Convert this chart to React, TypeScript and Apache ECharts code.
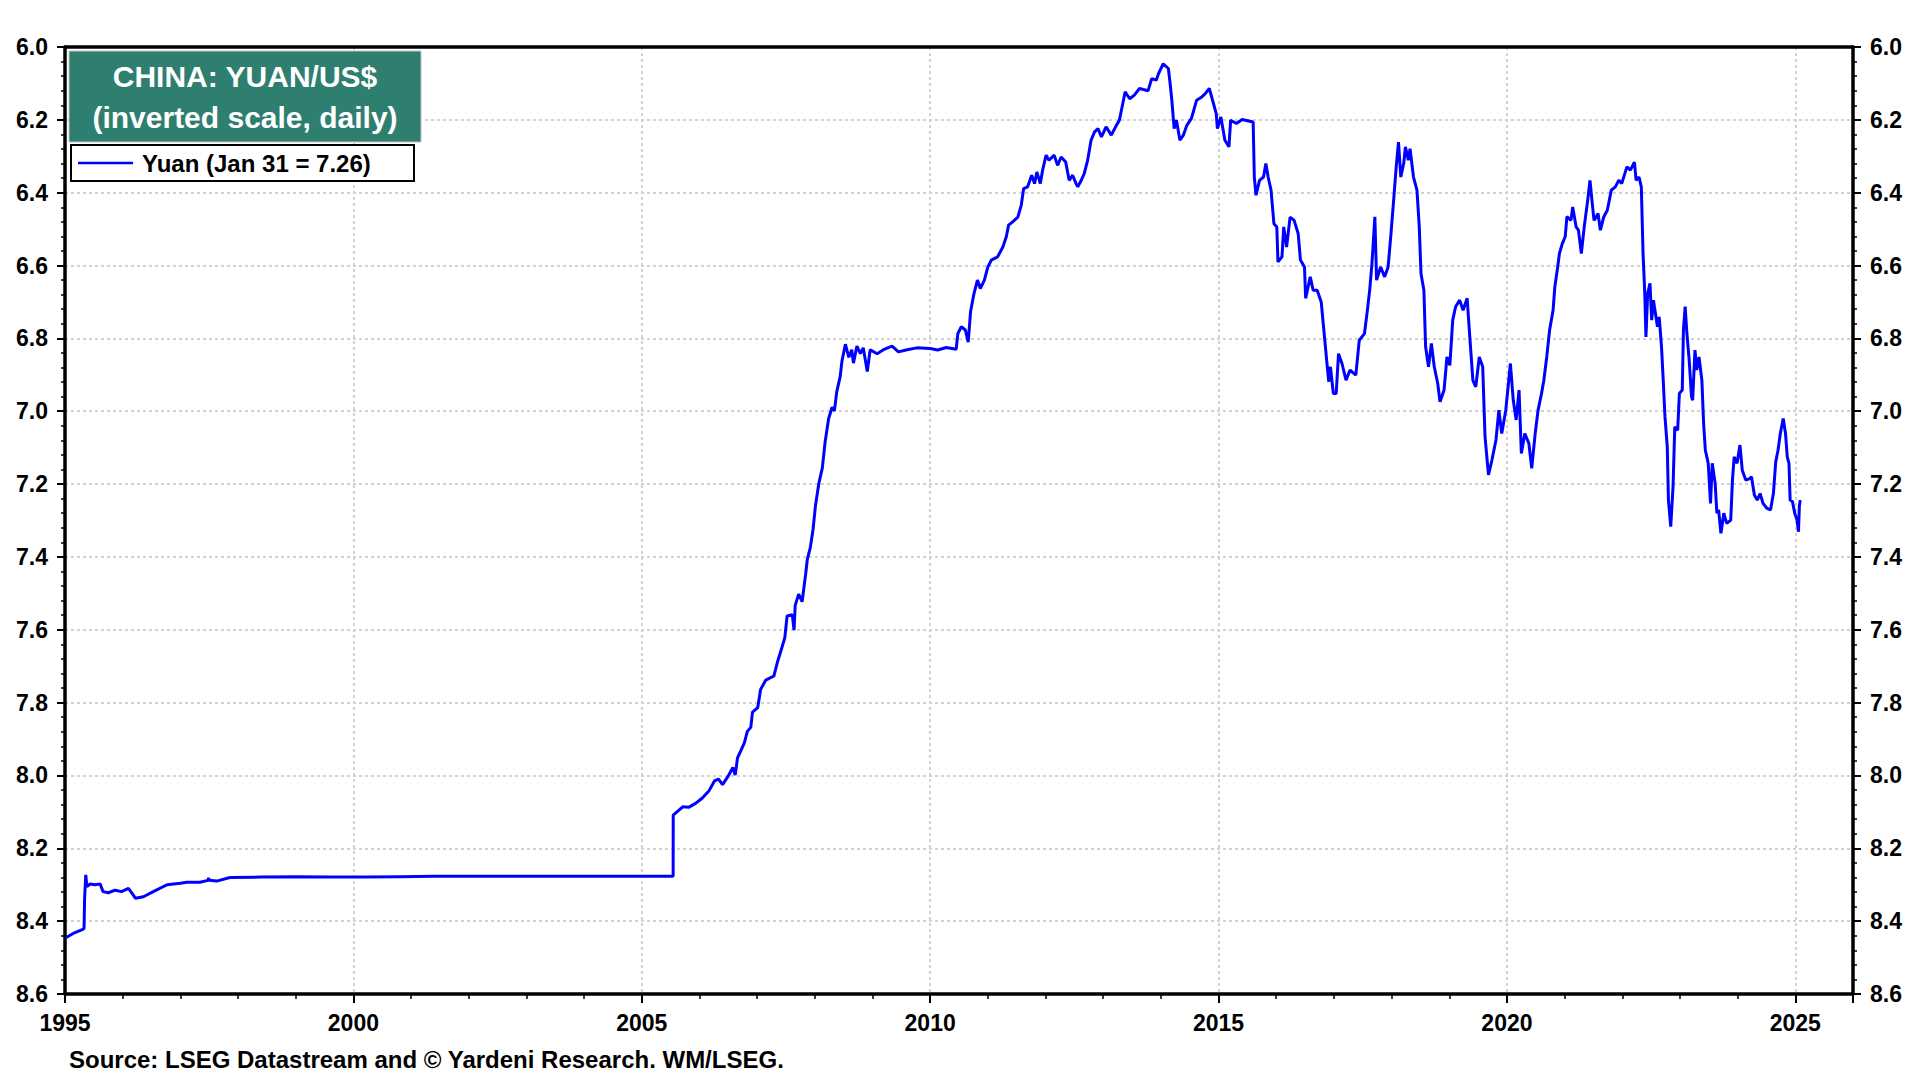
import React, { useEffect, useRef } from "react";
import * as echarts from "echarts";

// Decimal-year / yuan-per-dollar pairs
const pegEra = [
  [1995.02, 8.445], [1995.15, 8.433], [1995.29, 8.424], [1995.33, 8.42], [1995.34, 8.337], [1995.36, 8.273],
  [1995.38, 8.305], [1995.43, 8.298], [1995.52, 8.3], [1995.61, 8.298], [1995.66, 8.319], [1995.75, 8.322],
  [1995.87, 8.315], [1995.98, 8.319], [1996.1, 8.31], [1996.16, 8.323], [1996.22, 8.337], [1996.36, 8.333],
  [1996.53, 8.319], [1996.77, 8.3], [1997.0, 8.296], [1997.11, 8.293], [1997.34, 8.293], [1997.48, 8.288],
  [1997.49, 8.281], [1997.5, 8.288], [1997.63, 8.29], [1997.86, 8.28], [1998.39, 8.279], [1999.0, 8.278],
  [1999.6, 8.279], [2000.2, 8.279], [2000.8, 8.278], [2001.4, 8.277], [2002.0, 8.277], [2002.6, 8.277],
  [2003.2, 8.277], [2003.8, 8.277], [2004.4, 8.277], [2005.0, 8.277], [2005.544, 8.277],
];

const reformEra = [
  [2005.545, 8.109], [2005.71, 8.086], [2005.82, 8.087], [2005.94, 8.076], [2006.05, 8.062], [2006.17, 8.041],
  [2006.26, 8.015], [2006.33, 8.01], [2006.4, 8.025], [2006.49, 8.004], [2006.58, 7.978], [2006.62, 7.999],
  [2006.66, 7.952], [2006.72, 7.931], [2006.78, 7.91], [2006.83, 7.879], [2006.89, 7.868], [2006.92, 7.826],
  [2007.01, 7.814], [2007.06, 7.764], [2007.15, 7.738], [2007.29, 7.727], [2007.35, 7.69], [2007.41, 7.659],
  [2007.48, 7.622], [2007.52, 7.562], [2007.61, 7.559], [2007.64, 7.601], [2007.66, 7.533], [2007.72, 7.502],
  [2007.78, 7.523], [2007.84, 7.449], [2007.87, 7.407], [2007.92, 7.376], [2007.97, 7.324], [2008.01, 7.261],
  [2008.07, 7.198], [2008.13, 7.156], [2008.18, 7.083], [2008.24, 7.02], [2008.3, 6.989], [2008.34, 6.999],
  [2008.38, 6.947], [2008.44, 6.905], [2008.47, 6.863], [2008.53, 6.816],
];

const plateauEra = [
  [2008.59, 6.852], [2008.64, 6.831], [2008.67, 6.868], [2008.73, 6.821], [2008.79, 6.842], [2008.84, 6.826],
  [2008.91, 6.891], [2008.96, 6.831], [2009.08, 6.842], [2009.19, 6.831], [2009.34, 6.821], [2009.45, 6.837],
  [2009.6, 6.831], [2009.77, 6.826], [2010.0, 6.828], [2010.13, 6.832], [2010.28, 6.825], [2010.45, 6.83],
];

const rallyEra = [
  [2010.48, 6.787], [2010.54, 6.768], [2010.61, 6.777], [2010.66, 6.81], [2010.7, 6.727], [2010.76, 6.677],
  [2010.82, 6.64], [2010.87, 6.663], [2010.94, 6.64], [2011.0, 6.604], [2011.06, 6.585], [2011.17, 6.576],
  [2011.26, 6.549], [2011.32, 6.521], [2011.36, 6.489], [2011.43, 6.48], [2011.52, 6.467], [2011.58, 6.434],
  [2011.62, 6.389], [2011.69, 6.384], [2011.76, 6.352], [2011.81, 6.375], [2011.85, 6.343], [2011.91, 6.375],
  [2011.95, 6.338], [2012.01, 6.297], [2012.06, 6.311], [2012.15, 6.297], [2012.21, 6.325], [2012.27, 6.302],
  [2012.35, 6.316], [2012.41, 6.366], [2012.47, 6.352], [2012.53, 6.375], [2012.56, 6.384], [2012.62, 6.366],
  [2012.67, 6.348], [2012.73, 6.311], [2012.79, 6.256], [2012.85, 6.233], [2012.91, 6.224], [2012.97, 6.247],
  [2013.05, 6.219], [2013.14, 6.242], [2013.23, 6.215], [2013.28, 6.201], [2013.34, 6.155], [2013.38, 6.123],
  [2013.46, 6.142], [2013.54, 6.132], [2013.63, 6.114], [2013.78, 6.12], [2013.84, 6.087], [2013.92, 6.091],
  [2013.96, 6.073], [2014.04, 6.046], [2014.13, 6.059], [2014.16, 6.1], [2014.19, 6.146], [2014.23, 6.224],
  [2014.27, 6.201], [2014.33, 6.256], [2014.39, 6.242], [2014.45, 6.215], [2014.53, 6.196], [2014.62, 6.146],
  [2014.71, 6.137], [2014.77, 6.128], [2014.84, 6.114],
];

const swingEra = [
  [2014.96, 6.183], [2014.98, 6.224], [2015.04, 6.192], [2015.11, 6.256], [2015.18, 6.274], [2015.21, 6.201],
  [2015.31, 6.21], [2015.41, 6.199], [2015.6, 6.206], [2015.62, 6.357], [2015.65, 6.407], [2015.71, 6.366],
  [2015.78, 6.357], [2015.82, 6.32], [2015.86, 6.357], [2015.91, 6.393], [2015.96, 6.485], [2016.01, 6.494],
  [2016.03, 6.59], [2016.1, 6.576], [2016.13, 6.494], [2016.18, 6.549], [2016.24, 6.467], [2016.31, 6.476],
  [2016.38, 6.512], [2016.42, 6.585], [2016.49, 6.604], [2016.51, 6.69], [2016.59, 6.631], [2016.64, 6.668],
  [2016.71, 6.668], [2016.78, 6.7], [2016.82, 6.768], [2016.88, 6.869], [2016.91, 6.919], [2016.94, 6.878],
  [2016.99, 6.951], [2017.04, 6.951], [2017.08, 6.842], [2017.14, 6.869], [2017.21, 6.915], [2017.28, 6.887],
  [2017.38, 6.901], [2017.44, 6.805], [2017.53, 6.787], [2017.58, 6.723], [2017.62, 6.668], [2017.66, 6.594],
  [2017.71, 6.466], [2017.74, 6.64], [2017.81, 6.604], [2017.88, 6.631], [2017.94, 6.604], [2017.99, 6.512],
  [2018.04, 6.412], [2018.08, 6.329], [2018.12, 6.261], [2018.16, 6.357], [2018.21, 6.32], [2018.24, 6.274],
  [2018.29, 6.311], [2018.32, 6.279], [2018.38, 6.357], [2018.44, 6.393], [2018.48, 6.494], [2018.51, 6.622],
  [2018.56, 6.668], [2018.59, 6.823], [2018.64, 6.878], [2018.69, 6.814], [2018.74, 6.878], [2018.8, 6.924],
  [2018.84, 6.974], [2018.91, 6.942], [2018.96, 6.851], [2019.01, 6.874], [2019.06, 6.75], [2019.11, 6.713],
  [2019.18, 6.695], [2019.24, 6.723], [2019.31, 6.69], [2019.36, 6.805], [2019.41, 6.915], [2019.46, 6.933],
  [2019.52, 6.851], [2019.58, 6.878], [2019.62, 7.07], [2019.68, 7.175], [2019.74, 7.134], [2019.81, 7.079],
  [2019.86, 6.997], [2019.91, 7.061], [2019.98, 6.997],
];

const recentEra = [
  [2020.02, 6.933], [2020.06, 6.869], [2020.11, 6.97], [2020.16, 7.024], [2020.21, 6.942], [2020.25, 7.116],
  [2020.31, 7.061], [2020.38, 7.088], [2020.43, 7.157], [2020.49, 7.061], [2020.54, 6.997], [2020.6, 6.951],
  [2020.64, 6.915], [2020.69, 6.851], [2020.74, 6.777], [2020.8, 6.723], [2020.83, 6.659], [2020.88, 6.604],
  [2020.91, 6.567], [2020.96, 6.54], [2021.01, 6.521], [2021.04, 6.466], [2021.11, 6.476], [2021.14, 6.439],
  [2021.2, 6.494], [2021.24, 6.503], [2021.29, 6.567], [2021.34, 6.494], [2021.4, 6.421], [2021.44, 6.366],
  [2021.48, 6.43], [2021.51, 6.476], [2021.58, 6.457], [2021.62, 6.503], [2021.68, 6.466], [2021.74, 6.448],
  [2021.81, 6.393], [2021.88, 6.384], [2021.94, 6.366], [2021.99, 6.375], [2022.08, 6.329], [2022.14, 6.338],
  [2022.21, 6.316], [2022.24, 6.366], [2022.29, 6.357], [2022.33, 6.384], [2022.36, 6.567], [2022.39, 6.677],
  [2022.41, 6.796], [2022.44, 6.677], [2022.48, 6.649], [2022.51, 6.75], [2022.54, 6.695], [2022.61, 6.768],
  [2022.64, 6.741], [2022.68, 6.823], [2022.71, 6.915], [2022.74, 7.015], [2022.78, 7.098], [2022.8, 7.244],
  [2022.84, 7.317], [2022.88, 7.207], [2022.91, 7.043], [2022.96, 7.052], [2022.99, 6.951], [2023.04, 6.942],
  [2023.06, 6.777], [2023.09, 6.713], [2023.12, 6.786], [2023.16, 6.86], [2023.2, 6.96], [2023.22, 6.97],
  [2023.26, 6.832], [2023.29, 6.887], [2023.33, 6.851], [2023.38, 6.915], [2023.41, 7.034], [2023.44, 7.107],
  [2023.49, 7.143], [2023.53, 7.253], [2023.56, 7.143], [2023.61, 7.198], [2023.64, 7.28], [2023.67, 7.271],
  [2023.71, 7.335], [2023.76, 7.28], [2023.81, 7.308], [2023.88, 7.299], [2023.91, 7.189], [2023.94, 7.125],
  [2023.99, 7.143], [2024.04, 7.093], [2024.08, 7.162], [2024.14, 7.189], [2024.21, 7.185], [2024.24, 7.18],
  [2024.29, 7.23], [2024.34, 7.244], [2024.39, 7.226], [2024.44, 7.253], [2024.51, 7.267], [2024.57, 7.271],
  [2024.62, 7.226], [2024.66, 7.139], [2024.7, 7.107], [2024.74, 7.061], [2024.79, 7.02], [2024.83, 7.061],
  [2024.86, 7.125], [2024.89, 7.143], [2024.91, 7.244], [2024.95, 7.248], [2024.99, 7.28], [2025.03, 7.299],
  [2025.055, 7.331], [2025.07, 7.26], [2025.085, 7.244],
];

const yuanSeries = [...pegEra, ...reformEra, ...plateauEra, ...rallyEra, ...swingEra, ...recentEra];

const xMin = 1995;
const xMax = 2026;
const yMin = 6.0;
const yMax = 8.6;

const titleLines = ["CHINA: YUAN/US$", "(inverted scale, daily)"];
const legendLabel = "Yuan (Jan 31 = 7.26)";
const sourceText = "Source: LSEG Datastream and \u00A9 Yardeni Research. WM/LSEG.";

const FONT = '"Liberation Sans", Arial, Helvetica, sans-serif';

export default function App() {
  const ref = useRef<HTMLDivElement>(null);

  useEffect(() => {
    if (!ref.current) return;
    const chart = echarts.init(ref.current, undefined, { renderer: "svg" });

    const grid = { color: "#d2d2d2", width: 2, type: [3, 3] as number[] };
    const labelStyle = { color: "#000", fontSize: 23, fontWeight: "bold" as const, fontFamily: FONT };

    const yAxisBase = (position: "left" | "right", split: boolean) => ({
      type: "value",
      inverse: true,
      min: yMin,
      max: yMax,
      interval: 0.2,
      position,
      axisLine: { show: true, onZero: false, lineStyle: { color: "#000", width: 3.5 } },
      axisTick: { show: true, length: 8, lineStyle: { color: "#000", width: 2 } },
      minorTick: { show: true, splitNumber: 5, length: 4, lineStyle: { color: "#000", width: 1.5 } },
      axisLabel: { ...labelStyle, margin: 17, formatter: (v: number) => v.toFixed(1) },
      splitLine: { show: split, showMinLine: false, showMaxLine: false, lineStyle: grid },
      minorSplitLine: { show: false },
    });

    chart.setOption({
      animation: false,
      backgroundColor: "#fff",
      grid: {
        left: 65,
        right: 67,
        top: 47,
        bottom: 86,
        show: false,
      },
      xAxis: [
        {
          type: "value",
          min: xMin,
          max: xMax,
          interval: 5,
          position: "bottom",
          axisLine: { show: true, onZero: false, lineStyle: { color: "#000", width: 3.5 } },
          axisTick: { show: true, length: 9, lineStyle: { color: "#000", width: 2 } },
          axisLabel: {
            ...labelStyle,
            margin: 17,
            formatter: (v: number) => (Math.round(v) % 5 === 0 ? String(Math.round(v)) : ""),
          },
          splitLine: { show: true, showMinLine: false, showMaxLine: false, lineStyle: grid },
        },
        {
          type: "value",
          min: xMin,
          max: xMax,
          interval: 1,
          position: "bottom",
          axisLine: { show: false, onZero: false },
          axisTick: { show: true, length: 5, lineStyle: { color: "#000", width: 1.5 } },
          axisLabel: { show: false },
          splitLine: { show: false },
        },
        {
          type: "value",
          min: xMin,
          max: xMax,
          position: "top",
          axisLine: { show: true, onZero: false, lineStyle: { color: "#000", width: 3.5 } },
          axisTick: { show: false },
          axisLabel: { show: false },
          splitLine: { show: false },
        },
      ],
      yAxis: [yAxisBase("left", true), yAxisBase("right", false)],
      series: [
        {
          name: "Yuan",
          type: "line",
          xAxisIndex: 0,
          yAxisIndex: 0,
          data: yuanSeries,
          showSymbol: false,
          symbol: "none",
          lineStyle: { color: "#0000ff", width: 3 },
          clip: true,
          z: 5,
        },
      ],
      graphic: [
        {
          type: "rect",
          shape: { x: 69, y: 51, width: 352, height: 91 },
          style: { fill: "#2f7f70", stroke: "#c4c4c4", lineWidth: 1 },
          z: 100,
        },
        {
          type: "text",
          x: 245,
          y: 76,
          style: {
            text: titleLines[0],
            fill: "#fff",
            font: `bold 30px ${FONT}`,
            align: "center",
            verticalAlign: "middle",
          },
          z: 101,
        },
        {
          type: "text",
          x: 245,
          y: 117,
          style: {
            text: titleLines[1],
            fill: "#fff",
            font: `bold 30px ${FONT}`,
            align: "center",
            verticalAlign: "middle",
          },
          z: 101,
        },
        {
          type: "rect",
          shape: { x: 71, y: 145, width: 343, height: 36 },
          style: { fill: "#fff", stroke: "#000", lineWidth: 2 },
          z: 100,
        },
        {
          type: "line",
          shape: { x1: 78, y1: 163, x2: 133, y2: 163 },
          style: { stroke: "#0000ff", lineWidth: 2.5 },
          z: 101,
        },
        {
          type: "text",
          x: 142,
          y: 163,
          style: {
            text: legendLabel,
            fill: "#000",
            font: `bold 24px ${FONT}`,
            align: "left",
            verticalAlign: "middle",
          },
          z: 101,
        },
        {
          type: "text",
          x: 69,
          y: 1059,
          style: {
            text: sourceText,
            fill: "#000",
            font: `bold 24px ${FONT}`,
            align: "left",
            verticalAlign: "middle",
          },
          z: 101,
        },
      ],
    });

    return () => {
      chart.dispose();
    };
  }, []);

  return (
    <div
      ref={ref}
      style={{ position: "fixed", left: 0, top: 0, width: 1920, height: 1080, background: "#fff" }}
    />
  );
}
